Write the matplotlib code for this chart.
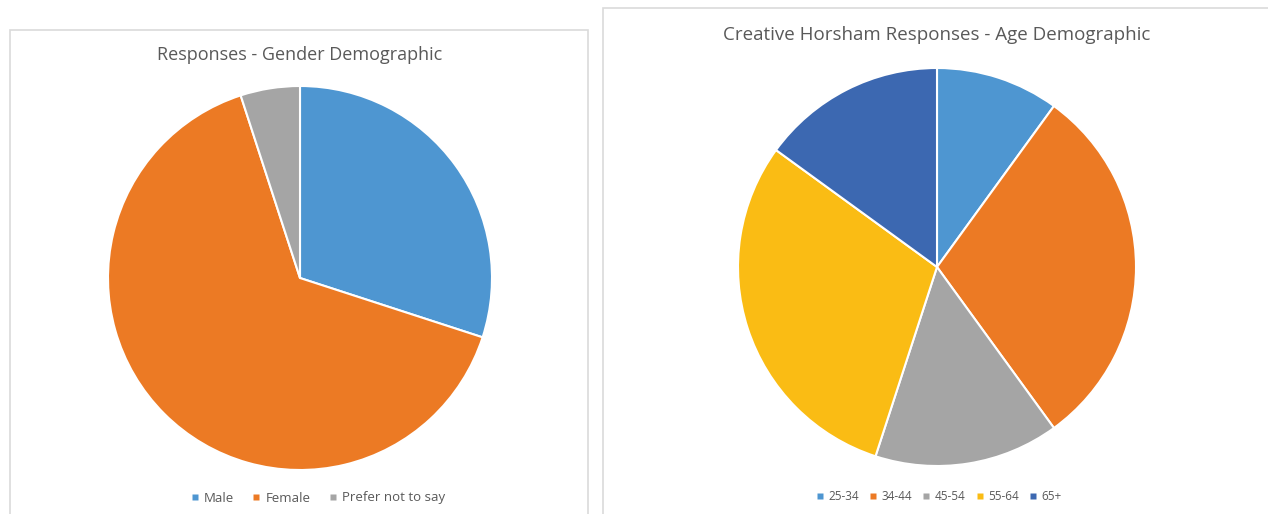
import matplotlib
matplotlib.use("Agg")
from matplotlib import pyplot as plt
from matplotlib.patches import Rectangle
from matplotlib.lines import Line2D

# data (shares in %)
gender_labels = ["Male", "Female", "Prefer not to say"]
gender_values = [30, 65, 5]
age_labels = ["25-34", "34-44", "45-54", "55-64", "65+"]
age_values = [10, 30, 15, 30, 15]

gender_colors = ["#4E96D1", "#EC7A24", "#A5A5A5"]
age_colors = ["#4E96D1", "#EC7A24", "#A5A5A5", "#FABC14", "#3C68B1"]

W, H = 1268, 514
plt.rcParams['font.family'] = ['Open Sans', 'DejaVu Sans']
fig = plt.figure(figsize=(W / 100, H / 100), dpi=100)


def px_rect(x0, y0, x1, y1):
    # pixel box (top-left origin) -> figure fraction [l, b, w, h]
    return [x0 / W, 1 - y1 / H, (x1 - x0) / W, (y1 - y0) / H]


# panel frames (behind the pies)
for x0, y0, x1, y1 in [(10, 30, 588, 520), (603, 8, 1275, 520)]:
    l, b, w, h = px_rect(x0, y0, x1, y1)
    fig.patches.append(Rectangle((l, b), w, h, transform=fig.transFigure,
                                 facecolor="white", edgecolor="#DADADA", lw=1.2,
                                 zorder=-5))


def draw_pie(cx, cy, r, values, colors):
    ax = fig.add_axes(px_rect(cx - r, cy - r, cx + r, cy + r))
    ax.pie(values, colors=colors, startangle=90, counterclock=False,
           wedgeprops=dict(edgecolor="white", linewidth=1.5))
    ax.set_xlim(-1.0, 1.0)
    ax.set_ylim(-1.0, 1.0)
    ax.set_aspect("equal")
    ax.axis("off")
    return ax


draw_pie(300, 278, 192, gender_values, gender_colors)
draw_pie(937, 267, 199, age_values, age_colors)

# titles
fig.text(300 / W, 1 - 55 / H, "Responses - Gender Demographic", ha="center", va="center",
         fontsize=13, color="#595959")
fig.text(937 / W, 1 - 35 / H, "Creative Horsham Responses - Age Demographic", ha="center",
         va="center", fontsize=13.5, color="#595959")


# legends
def add_legend(labels, colors, x, y, size, gap):
    handles = [Line2D([], [], ls="none", marker="s", markersize=5,
                      markerfacecolor=c, markeredgecolor="none") for c in colors]
    fig.legend(handles, labels, loc="center", bbox_to_anchor=(x / W, 1 - y / H),
               ncol=len(labels), frameon=False, fontsize=size, handlelength=0.6,
               handletextpad=0.4, columnspacing=gap, labelcolor="#595959")


add_legend(gender_labels, gender_colors, 318, 498, 9.5, 1.4)
add_legend(age_labels, age_colors, 939, 497, 8.5, 0.9)

fig.savefig("out.png", dpi=100, facecolor="white")
